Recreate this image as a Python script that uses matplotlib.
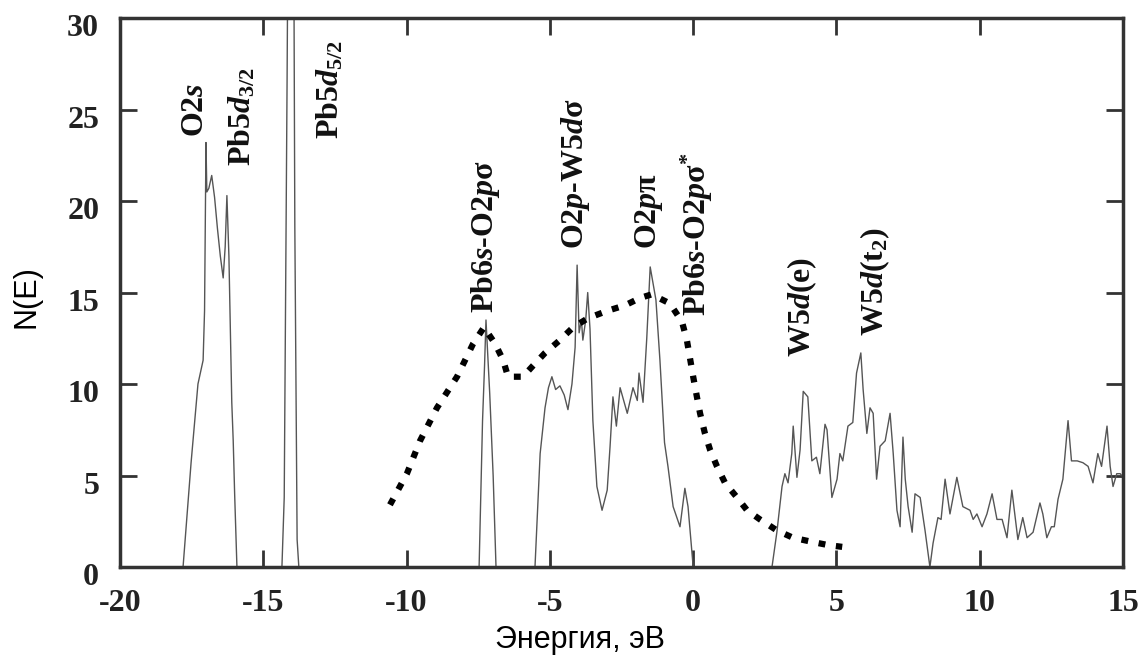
import numpy as np
import matplotlib
matplotlib.use("Agg")
import matplotlib.pyplot as plt
from matplotlib.transforms import ScaledTranslation

# DOS curve (solid)
energy = [-20.0, -17.8, -17.52, -17.28, -17.1, -17.05, -17.0, -16.97, -16.9, -16.8, -16.7, -16.6,
          -16.5, -16.4, -16.33, -16.27, -16.2, -16.1, -16.05, -16.0, -15.92,
          -14.35, -14.27, -14.22, -14.17, -14.12, -13.95, -13.9, -13.85, -13.82, -13.76,
          -7.47, -7.35, -7.28, -7.23, -7.15, -7.1, -6.98, -6.88,
          -5.52, -5.34, -5.17, -5.05, -4.93, -4.8, -4.65, -4.5, -4.37, -4.23, -4.12, -4.05,
          -3.98, -3.9, -3.85, -3.75, -3.68, -3.6, -3.5, -3.36, -3.18, -3.0, -2.9, -2.8,
          -2.68, -2.55, -2.3, -2.1, -1.95, -1.89, -1.75, -1.62, -1.5, -1.4, -1.3, -1.16,
          -1.0, -0.88, -0.7, -0.46, -0.29, -0.18, 0.0,
          2.75, 2.92, 3.1, 3.2, 3.31, 3.44, 3.49, 3.62, 3.73, 3.84, 4.0, 4.14, 4.3, 4.42,
          4.6, 4.67, 4.84, 5.02, 5.12, 5.22, 5.4, 5.57, 5.7, 5.85, 5.93, 6.06, 6.17, 6.28,
          6.4, 6.52, 6.7, 6.87, 6.98, 7.11, 7.22, 7.32, 7.4, 7.5, 7.64, 7.74, 7.92, 8.09,
          8.26, 8.37, 8.54, 8.65, 8.79, 8.96, 9.2, 9.41, 9.66, 9.77, 9.9, 10.08, 10.25,
          10.43, 10.6, 10.78, 10.95, 11.12, 11.22, 11.33, 11.5, 11.65, 11.86, 12.1, 12.2,
          12.34, 12.5, 12.6, 12.73, 12.9, 13.08, 13.2, 13.4, 13.6, 13.78, 13.95, 14.12,
          14.25, 14.44, 14.55, 14.65, 14.78, 14.9, 15.0]
dos = [0, 0, 5.7, 10.0, 11.3, 14.0, 23.2, 20.5, 20.7, 21.4, 20.2, 18.5,
       17.0, 15.8, 17.5, 20.3, 17.0, 9.0, 6.9, 4.0, 0,
       0, 3.8, 15.0, 26.6, 40.0, 40.0, 18.6, 8.0, 1.5, 0,
       0, 8.0, 11.0, 13.5, 11.0, 9.5, 5.0, 0,
       0, 6.2, 8.7, 9.8, 10.4, 9.7, 9.9, 9.4, 8.6, 10.0, 12.0, 16.5,
       12.8, 13.5, 12.4, 13.5, 15.0, 13.0, 8.0, 4.4, 3.1, 4.2, 6.6, 9.3,
       7.7, 9.8, 8.4, 9.8, 9.1, 10.6, 9.0, 12.5, 16.4, 15.5, 14.6, 11.3,
       6.8, 5.5, 3.3, 2.2, 4.3, 3.3, 0,
       0, 1.9, 4.4, 5.1, 4.6, 6.2, 7.7, 4.9, 6.4, 9.6, 9.3, 5.8, 6.0, 5.1,
       7.8, 7.5, 3.8, 4.8, 6.2, 5.8, 7.7, 7.9, 10.6, 11.7, 9.7, 7.3, 8.7, 8.4,
       4.8, 6.6, 6.9, 8.4, 6.2, 3.1, 2.2, 7.1, 4.8, 3.3, 1.9, 4.0, 3.8, 2.0,
       0, 1.3, 2.7, 2.6, 4.8, 2.9, 4.9, 3.3, 3.1, 2.6, 2.9, 2.2, 2.9,
       4.0, 2.6, 2.6, 1.6, 4.2, 2.9, 1.5, 2.7, 1.6, 1.9, 3.5, 2.9,
       1.6, 2.2, 2.2, 3.7, 4.8, 8.0, 5.8, 5.8, 5.7, 5.5, 4.6, 6.2,
       5.5, 7.7, 5.5, 4.4, 5.1, 5.1, 4.9]

# dotted envelope curve
env_energy = [-10.58, -9.99, -9.53, -8.94, -8.24, -7.68, -7.3, -6.91, -6.63, -6.46, -5.94,
              -5.59, -5.17, -4.65, -4.19, -3.67, -3.0, -2.38, -1.86, -1.45, -0.81, -0.39,
              -0.22, -0.11, 0.0, 0.13, 0.24, 0.41, 0.59, 0.83, 1.11, 1.53, 1.88, 2.33,
              2.92, 3.48, 4.07, 4.7, 5.2]
env_dos = [3.4, 5.1, 6.9, 8.7, 10.4, 12.2, 13.1, 12.2, 11.3, 10.4, 10.4,
           11.0, 11.7, 12.4, 13.1, 13.6, 14.0, 14.3, 14.7, 14.9, 14.4, 13.4,
           12.4, 11.4, 10.4, 9.3, 8.4, 7.3, 6.4, 5.5, 4.6, 3.8, 3.1, 2.6,
           2.0, 1.6, 1.4, 1.2, 1.1]

# peak labels
label_text = ['O2$s$', 'Pb5$d_{\\mathrm{3/2}}$', 'Pb5$d_{\\mathrm{5/2}}$', 'Pb6$s$-O2$p$σ',
              'O2$p$-W5$d$σ', 'O2$p$π', 'Pb6$s$-O2$p$σ$^{*}$', 'W5$d$(e)',
              'W5$d$(t$_{\\mathrm{2}}$)']
label_x = [-17.36, -15.74, -12.67, -7.26, -4.12, -1.54, 0.13, 3.8, 6.34]
label_y = [23.5, 21.9, 23.4, 13.9, 17.4, 17.4, 13.7, 11.5, 12.6]

xticks = [-20, -15, -10, -5, 0, 5, 10, 15]
yticks = [0, 5, 10, 15, 20, 25, 30]

plt.rcParams['axes.unicode_minus'] = False
plt.rcParams['mathtext.fontset'] = 'custom'
plt.rcParams['mathtext.rm'] = 'Liberation Serif:bold'
plt.rcParams['mathtext.it'] = 'Liberation Serif:italic:bold'
plt.rcParams['mathtext.bf'] = 'Liberation Serif:bold'

fig = plt.figure(figsize=(11.44, 6.71), dpi=100)
ax = fig.add_axes([0.1049, 0.155, 0.8768, 0.818])

ax.plot(energy, dos, color='#555555', lw=1.0)
ax.plot(env_energy, env_dos, color='black', lw=4.5, linestyle=(0, (1.1, 1.7)),
        dash_capstyle='butt')

for s, x, y in zip(label_text, label_x, label_y):
    ax.text(x, y, s, rotation=90, ha='center', va='bottom', fontsize=23,
            family='Liberation Serif', weight='bold', color='#111111')

ax.set_xlim(-20, 15)
ax.set_ylim(0, 30)
ax.set_xticks(xticks)
ax.set_yticks(yticks)
ax.set_xticklabels([str(t) for t in xticks])
ax.set_yticklabels([str(t) for t in yticks])
ax.tick_params(direction='in', length=12, width=2, color='#333333',
               top=True, right=True, labelsize=23)
ax.tick_params(axis='x', pad=16)
ax.tick_params(axis='y', pad=15)
for lab in ax.get_xticklabels() + ax.get_yticklabels():
    lab.set_family('Liberation Serif')
    lab.set_weight('bold')
    lab.set_color('#222222')
shift = ScaledTranslation(0, -0.07, fig.dpi_scale_trans)
for lab in ax.get_yticklabels():
    lab.set_transform(lab.get_transform() + shift)
for sp in ax.spines.values():
    sp.set_linewidth(2.5)
    sp.set_color('#333333')

fig.text(580 / 1144, 1 - 640 / 671, 'Энергия, эВ', ha='center', va='center',
         fontsize=22, family='Liberation Sans')
fig.text(27 / 1144, 1 - 297 / 671, 'N(E)', ha='center', va='center', rotation=90,
         fontsize=22, family='Liberation Sans')

fig.savefig('out.png', dpi=100)
